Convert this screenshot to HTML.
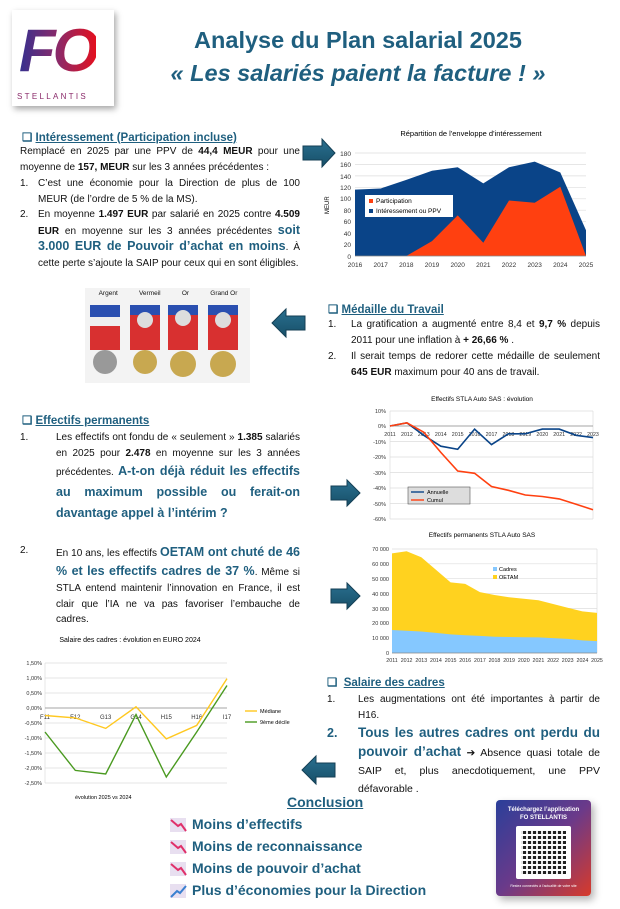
<!DOCTYPE html>
<html><head><meta charset="utf-8">
<style>
*{margin:0;padding:0;box-sizing:border-box}
body{width:620px;height:909px;background:#fff;position:relative;overflow:hidden;font-family:"Liberation Sans",sans-serif;color:#111}
.a{position:absolute}
.t{font-size:10px;line-height:15.6px;text-align:justify}
.h{font-size:11.5px;font-weight:bold;color:#1f5f7f}
.h u{text-decoration:underline}
.b{color:#1f5f7f;font-weight:bold}
.big{font-size:12.5px}
.n{position:absolute;left:0}
.title{font-size:23.5px;font-weight:bold;color:#1f5f7f;text-align:center;width:400px;left:158px}
.concl{font-size:14px;font-weight:bold;color:#1f5f7f;left:192px}
</style></head><body>

<div class="a" style="left:12px;top:10px;width:102px;height:96px;background:#fff;box-shadow:2px 3px 6px rgba(0,0,0,.35);overflow:hidden">
<div class="a" style="left:7px;top:6px;font-size:60px;font-weight:bold;font-style:italic;letter-spacing:-3px;background:linear-gradient(90deg,#35308f,#8a2a6a,#e3101f);-webkit-background-clip:text;background-clip:text;color:transparent">FO</div>
<div class="a" style="left:5px;top:82px;font-size:8px;letter-spacing:2.3px;color:#8a2a6a">STELLANTIS</div>
</div>

<div class="a title" style="top:27px">Analyse du Plan salarial 2025</div>
<div class="a title" style="top:60px;font-style:italic">« Les salariés paient la facture ! »</div>

<div class="a h" style="left:22px;top:130px">❑ <u>Intéressement (Participation incluse)</u></div>
<div class="a t" style="left:20px;top:144px;width:280px">Remplacé en 2025 par une PPV de <b>44,4 MEUR</b> pour une moyenne de <b>157, MEUR</b> sur les 3 années précédentes :</div>
<div class="a t" style="left:20px;top:176px;width:280px;padding-left:18px"><span class="n">1.</span>C’est une économie pour la Direction de plus de 100 MEUR (de l’ordre de 5 % de la MS).</div>
<div class="a t" style="left:20px;top:207px;width:280px;padding-left:18px"><span class="n">2.</span>En moyenne <b>1.497 EUR</b> par salarié en 2025 contre <b>4.509 EUR</b> en moyenne sur les 3 années précédentes <span class="b big">soit 3.000 EUR de Pouvoir d’achat en moins</span>. À cette perte s’ajoute la SAIP pour ceux qui en sont éligibles.</div>

<div class="a" style="left:85px;top:288px;width:165px;height:95px;background:#f3f3f3"></div>
<div class="a" style="left:88px;top:290px;font-size:6.5px;width:160px;display:flex;justify-content:space-around"><span>Argent</span><span>Vermeil</span><span>Or</span><span>Grand Or</span></div>

<div class="a h" style="left:328px;top:302px">❑ <u>Médaille du Travail</u></div>
<div class="a t" style="left:328px;top:317px;width:272px;padding-left:23px"><span class="n">1.</span>La gratification a augmenté entre 8,4 et <b>9,7 %</b> depuis 2011 pour une inflation à <b>+ 26,66 %</b> .</div>
<div class="a t" style="left:328px;top:349px;width:272px;padding-left:23px"><span class="n">2.</span>Il serait temps de redorer cette médaille de seulement <b>645 EUR</b> maximum pour 40 ans de travail.</div>

<div class="a h" style="left:22px;top:413px">❑ <u>Effectifs permanents</u></div>
<div class="a t" style="left:20px;top:430px;width:280px;padding-left:36px"><span class="n">1.</span>Les effectifs ont fondu de « seulement » <b>1.385</b> salariés en 2025 pour <b>2.478</b> en moyenne sur les 3 années précédentes. <span class="b big" style="line-height:21px">A-t-on déjà réduit les effectifs au maximum possible ou ferait-on davantage appel à l’intérim ?</span></div>
<div class="a t" style="left:20px;top:543px;width:280px;padding-left:36px"><span class="n">2.</span>En 10 ans, les effectifs <span class="b big" style="line-height:19px">OETAM ont chuté de 46 % et les effectifs cadres de 37 %</span>.  Même si STLA entend maintenir l’innovation en France, il est clair que l’IA ne va pas favoriser l’embauche de cadres.</div>

<div class="a h" style="left:327px;top:675px">❑ &nbsp;<u>Salaire des cadres</u></div>
<div class="a t" style="left:327px;top:692px;width:273px;padding-left:31px"><span class="n">1.</span>Les augmentations ont été importantes à partir de H16.</div>
<div class="a t" style="left:327px;top:724px;width:273px;padding-left:31px;line-height:18px;font-size:10.5px"><span class="n b big">2.</span><span class="b" style="font-size:13.5px">Tous les autres cadres ont perdu du pouvoir d’achat</span> ➔ Absence quasi totale de SAIP et, plus anecdotiquement, une PPV défavorable .</div>

<div class="a" style="left:287px;top:794px;font-size:14px;font-weight:bold;color:#1f5f7f;text-decoration:underline">Conclusion</div>
<div class="a concl" style="top:816px">Moins d’effectifs</div>
<div class="a concl" style="top:838px">Moins de reconnaissance</div>
<div class="a concl" style="top:860px">Moins de pouvoir d’achat</div>
<div class="a concl" style="top:882px">Plus d’économies pour la Direction</div>

<div class="a" style="left:496px;top:800px;width:95px;height:96px;border-radius:4px;background:linear-gradient(135deg,#2a3f9a,#6a3a8a 50%,#d83a2a);box-shadow:3px 4px 8px rgba(0,0,0,.3)"></div>
<div class="a" style="left:496px;top:806px;width:95px;text-align:center;color:#fff;font-size:6px;font-weight:bold;line-height:8px">Téléchargez l’application<br>FO STELLANTIS</div>
<div class="a" style="left:516px;top:826px;width:55px;height:53px;background:#fff;border-radius:2px"></div>
<div class="a" style="left:521px;top:831px;width:45px;height:43px;background:repeating-linear-gradient(90deg,rgba(255,255,255,.9) 0 2px,transparent 2px 5px),repeating-linear-gradient(0deg,#222 0 3px,#fff 3px 5px)"></div>
<div class="a" style="left:496px;top:884px;width:95px;text-align:center;color:#fff;font-size:3.5px">Restez connectés à l’actualité de votre site</div>

<svg class="a" style="left:0;top:0" width="620" height="909" font-family="Liberation Sans, sans-serif">
<defs><linearGradient id="ar" x1="0" y1="0" x2="0" y2="1"><stop offset="0" stop-color="#2a7090"/><stop offset="1" stop-color="#174f68"/></linearGradient></defs>
<g fill="url(#ar)" stroke="#143f55" stroke-width="1">
<polygon points="303,146 322,146 322,139 335,153 322,167 322,160 303,160"/>
<polygon points="305,316 286,316 286,309 272,323 286,337 286,330 305,330"/>
<polygon points="331,486 347,486 347,480 360,493 347,506 347,500 331,500"/>
<polygon points="331,589 347,589 347,583 360,596 347,609 347,603 331,603"/>
<polygon points="335,763 316,763 316,756 302,770 316,784 316,777 335,777"/>
</g>

<g>
<rect x="90" y="305" width="30" height="12" fill="#2a4fb0"/><rect x="90" y="317" width="30" height="9" fill="#eee"/><rect x="90" y="326" width="30" height="24" fill="#d83030"/>
<circle cx="105" cy="362" r="12" fill="#999"/>
<rect x="130" y="305" width="30" height="45" fill="#d83030"/><rect x="130" y="305" width="30" height="10" fill="#2a4fb0"/><circle cx="145" cy="320" r="8" fill="#ddd"/><circle cx="145" cy="362" r="12" fill="#c8a850"/>
<rect x="168" y="305" width="30" height="45" fill="#d83030"/><rect x="168" y="305" width="30" height="10" fill="#2a4fb0"/><circle cx="183" cy="318" r="8" fill="#ddd"/><circle cx="183" cy="364" r="13" fill="#c8a850"/>
<rect x="208" y="305" width="30" height="45" fill="#d83030"/><rect x="208" y="305" width="30" height="10" fill="#2a4fb0"/><circle cx="223" cy="320" r="8" fill="#ddd"/><circle cx="223" cy="364" r="13" fill="#c8a850"/>
</g>

<text x="471" y="136" font-size="7.5" text-anchor="middle">Répartition de l'enveloppe d'intéressement</text>
<g stroke="#ddd" stroke-width="0.7">
<line x1="355" x2="586" y1="153" y2="153"/><line x1="355" x2="586" y1="164.4" y2="164.4"/><line x1="355" x2="586" y1="175.9" y2="175.9"/><line x1="355" x2="586" y1="187.3" y2="187.3"/><line x1="355" x2="586" y1="198.8" y2="198.8"/><line x1="355" x2="586" y1="210.2" y2="210.2"/><line x1="355" x2="586" y1="221.7" y2="221.7"/><line x1="355" x2="586" y1="233.1" y2="233.1"/><line x1="355" x2="586" y1="244.6" y2="244.6"/></g>
<polygon fill="#0a4488" points="355,256 355,189.6 380.7,188.5 406.3,179.9 432,170.8 457.7,167.3 483.3,183.4 509,167.3 534.7,161.6 560.3,172.5 586,230.3 586,256"/>
<polygon fill="#ff4010" points="355,256 406.3,256 432,241.1 457.7,215.4 483.3,242.8 509,200.5 534.7,202.8 560.3,186.8 586,256"/>
<line x1="355" x2="586" y1="256" y2="256" stroke="#888" stroke-width="0.7"/>
<g font-size="6.5" fill="#333" text-anchor="end">
<text x="351" y="156">180</text><text x="351" y="167">160</text><text x="351" y="179">140</text><text x="351" y="190">120</text><text x="351" y="201">100</text><text x="351" y="213">80</text><text x="351" y="224">60</text><text x="351" y="236">40</text><text x="351" y="247">20</text><text x="351" y="259">0</text></g>
<g font-size="6.5" fill="#333" text-anchor="middle">
<text x="355" y="267">2016</text><text x="380.7" y="267">2017</text><text x="406.3" y="267">2018</text><text x="432" y="267">2019</text><text x="457.7" y="267">2020</text><text x="483.3" y="267">2021</text><text x="509" y="267">2022</text><text x="534.7" y="267">2023</text><text x="560.3" y="267">2024</text><text x="586" y="267">2025</text></g>
<text x="0" y="0" font-size="6" transform="translate(329,214) rotate(-90)">MEUR</text>
<rect x="365" y="195" width="88" height="22" fill="#fff"/>
<rect x="369" y="199" width="4" height="4" fill="#ff4010"/><text x="376" y="203" font-size="6.5">Participation</text>
<rect x="369" y="209" width="4" height="4" fill="#0a4488"/><text x="376" y="213" font-size="6.5">Intéressement ou PPV</text>

<text x="482" y="401" font-size="6.5" text-anchor="middle">Effectifs STLA Auto SAS : évolution</text>
<g stroke="#ddd" stroke-width="0.7"><line x1="390" x2="593" y1="411" y2="411"/><line x1="390" x2="593" y1="441.5" y2="441.5"/><line x1="390" x2="593" y1="457" y2="457"/><line x1="390" x2="593" y1="472.5" y2="472.5"/><line x1="390" x2="593" y1="488" y2="488"/><line x1="390" x2="593" y1="503.5" y2="503.5"/><line x1="390" x2="593" y1="519" y2="519"/><line x1="390" x2="390" y1="411" y2="519"/><line x1="593" x2="593" y1="411" y2="519"/></g>
<line x1="390" x2="593" y1="426" y2="426" stroke="#888" stroke-width="0.7"/>
<g font-size="5.5" fill="#333" text-anchor="end"><text x="386" y="413">10%</text><text x="386" y="428">0%</text><text x="386" y="444">-10%</text><text x="386" y="459">-20%</text><text x="386" y="475">-30%</text><text x="386" y="490">-40%</text><text x="386" y="506">-50%</text><text x="386" y="521">-60%</text></g>
<g font-size="5.3" fill="#333" text-anchor="middle"><text x="390" y="436">2011</text><text x="406.9" y="436">2012</text><text x="423.8" y="436">2013</text><text x="440.8" y="436">2014</text><text x="457.7" y="436">2015</text><text x="474.6" y="436">2016</text><text x="491.5" y="436">2017</text><text x="508.4" y="436">2018</text><text x="525.3" y="436">2019</text><text x="542.3" y="436">2020</text><text x="559.2" y="436">2021</text><text x="576.1" y="436">2022</text><text x="593" y="436">2023</text></g>
<polyline fill="none" stroke="#0a4488" stroke-width="1.6" points="390,426 406.9,422.9 423.8,435.3 440.8,446.2 457.7,449.3 474.6,429.1 491.5,444.6 508.4,433.8 525.3,433.8 542.3,429.1 559.2,429.1 576.1,435.3 593,437.6"/>
<polyline fill="none" stroke="#ff4010" stroke-width="1.6" points="390,426 406.9,422.9 423.8,432.2 440.8,452.4 457.7,471 474.6,473.3 491.5,486.5 508.4,490.3 525.3,495 542.3,496.5 559.2,498.9 576.1,504.3 593,509.7"/>
<rect x="408" y="487" width="62" height="17" fill="#ddd" stroke="#555" stroke-width="0.6"/>
<line x1="411" x2="424" y1="492" y2="492" stroke="#0a4488" stroke-width="1.4"/><text x="427" y="494" font-size="5.5">Annuelle</text>
<line x1="411" x2="424" y1="500" y2="500" stroke="#ff4010" stroke-width="1.4"/><text x="427" y="502" font-size="5.5">Cumul</text>

<text x="482" y="537" font-size="6.5" text-anchor="middle">Effectifs permanents STLA Auto SAS</text>
<g stroke="#ddd" stroke-width="0.7"><line x1="392" x2="597" y1="549" y2="549"/><line x1="392" x2="597" y1="563.8" y2="563.8"/><line x1="392" x2="597" y1="578.7" y2="578.7"/><line x1="392" x2="597" y1="593.6" y2="593.6"/><line x1="392" x2="597" y1="608.4" y2="608.4"/><line x1="392" x2="597" y1="623.3" y2="623.3"/><line x1="392" x2="597" y1="638.1" y2="638.1"/><line x1="597" x2="597" y1="549" y2="653"/></g>
<polygon fill="#ffd21f" points="392,653 392,553.4 406.6,551.2 421.3,557.2 435.9,569.8 450.6,582.4 465.2,583.9 479.9,592.1 494.5,595 509.1,597.3 523.8,598.8 538.4,600.2 553.1,604 567.7,607.7 582.4,611.4 597,612.9 597,653"/>
<polygon fill="#85c8ff" points="392,653 392,630 406.6,630.7 421.3,631.5 435.9,632.9 450.6,634.4 465.2,635.2 479.9,635.9 494.5,636.7 509.1,637 523.8,637.2 538.4,637.4 553.1,638.1 567.7,638.9 582.4,640.4 597,641.1 597,653"/>
<line x1="392" x2="597" y1="653" y2="653" stroke="#888" stroke-width="0.7"/>
<g font-size="5.5" fill="#333" text-anchor="end"><text x="389" y="551">70 000</text><text x="389" y="566">60 000</text><text x="389" y="581">50 000</text><text x="389" y="596">40 000</text><text x="389" y="611">30 000</text><text x="389" y="625">20 000</text><text x="389" y="640">10 000</text><text x="389" y="655">0</text></g>
<g font-size="5.3" fill="#333" text-anchor="middle"><text x="392" y="662">2011</text><text x="406.6" y="662">2012</text><text x="421.3" y="662">2013</text><text x="435.9" y="662">2014</text><text x="450.6" y="662">2015</text><text x="465.2" y="662">2016</text><text x="479.9" y="662">2017</text><text x="494.5" y="662">2018</text><text x="509.1" y="662">2019</text><text x="523.8" y="662">2020</text><text x="538.4" y="662">2021</text><text x="553.1" y="662">2022</text><text x="567.7" y="662">2023</text><text x="582.4" y="662">2024</text><text x="597" y="662">2025</text></g>
<rect x="493" y="567" width="4" height="4" fill="#85c8ff"/><text x="499" y="571" font-size="5.5">Cadres</text>
<rect x="493" y="575" width="4" height="4" fill="#ffd21f"/><text x="499" y="579" font-size="5.5">OETAM</text>

<text x="130" y="642" font-size="7" text-anchor="middle">Salaire des cadres : évolution en EURO 2024</text>
<g stroke="#ddd" stroke-width="0.7"><line x1="45" x2="227" y1="663" y2="663"/><line x1="45" x2="227" y1="678" y2="678"/><line x1="45" x2="227" y1="693" y2="693"/><line x1="45" x2="227" y1="723" y2="723"/><line x1="45" x2="227" y1="738" y2="738"/><line x1="45" x2="227" y1="753" y2="753"/><line x1="45" x2="227" y1="768" y2="768"/><line x1="45" x2="227" y1="783" y2="783"/><line x1="45" x2="45" y1="663" y2="783"/></g>
<line x1="45" x2="227" y1="708" y2="708" stroke="#888" stroke-width="0.7"/>
<g font-size="5.5" fill="#333" text-anchor="end"><text x="42" y="665">1,50%</text><text x="42" y="680">1,00%</text><text x="42" y="695">0,50%</text><text x="42" y="710">0,00%</text><text x="42" y="725">-0,50%</text><text x="42" y="740">-1,00%</text><text x="42" y="755">-1,50%</text><text x="42" y="770">-2,00%</text><text x="42" y="785">-2,50%</text></g>
<g font-size="6" fill="#333" text-anchor="middle"><text x="45" y="719">F11</text><text x="75.3" y="719">F12</text><text x="105.7" y="719">G13</text><text x="136" y="719">G14</text><text x="166.3" y="719">H15</text><text x="196.7" y="719">H16</text><text x="227" y="719">I17</text></g>
<polyline fill="none" stroke="#ffc820" stroke-width="1.4" points="45,715.5 75.3,717.9 105.7,728.4 136,706.8 166.3,738.9 196.7,725.4 227,678.6"/>
<polyline fill="none" stroke="#4a9a20" stroke-width="1.4" points="45,732 75.3,770.4 105.7,774 136,714.6 166.3,777 196.7,732 227,685.5"/>
<line x1="245" x2="257" y1="711" y2="711" stroke="#ffc820" stroke-width="1.4"/><text x="260" y="713" font-size="5.5">Médiane</text>
<line x1="245" x2="257" y1="722" y2="722" stroke="#4a9a20" stroke-width="1.4"/><text x="260" y="724" font-size="5.5">9ème décile</text>
<text x="75" y="799" font-size="5.5">évolution 2025 vs 2024</text>

<g>
<rect x="170" y="818" width="16" height="14" fill="#e8dff0"/><polyline points="171,820 178,826 181,824 186,831" fill="none" stroke="#e0306a" stroke-width="2"/>
<rect x="170" y="840" width="16" height="14" fill="#e8dff0"/><polyline points="171,842 178,848 181,846 186,853" fill="none" stroke="#e0306a" stroke-width="2"/>
<rect x="170" y="862" width="16" height="14" fill="#e8dff0"/><polyline points="171,864 178,870 181,868 186,875" fill="none" stroke="#e0306a" stroke-width="2"/>
<rect x="170" y="884" width="16" height="14" fill="#e8dff0"/><polyline points="171,897 177,891 180,893 186,886" fill="none" stroke="#3a80d0" stroke-width="2"/>
</g>
</svg>
</body></html>
